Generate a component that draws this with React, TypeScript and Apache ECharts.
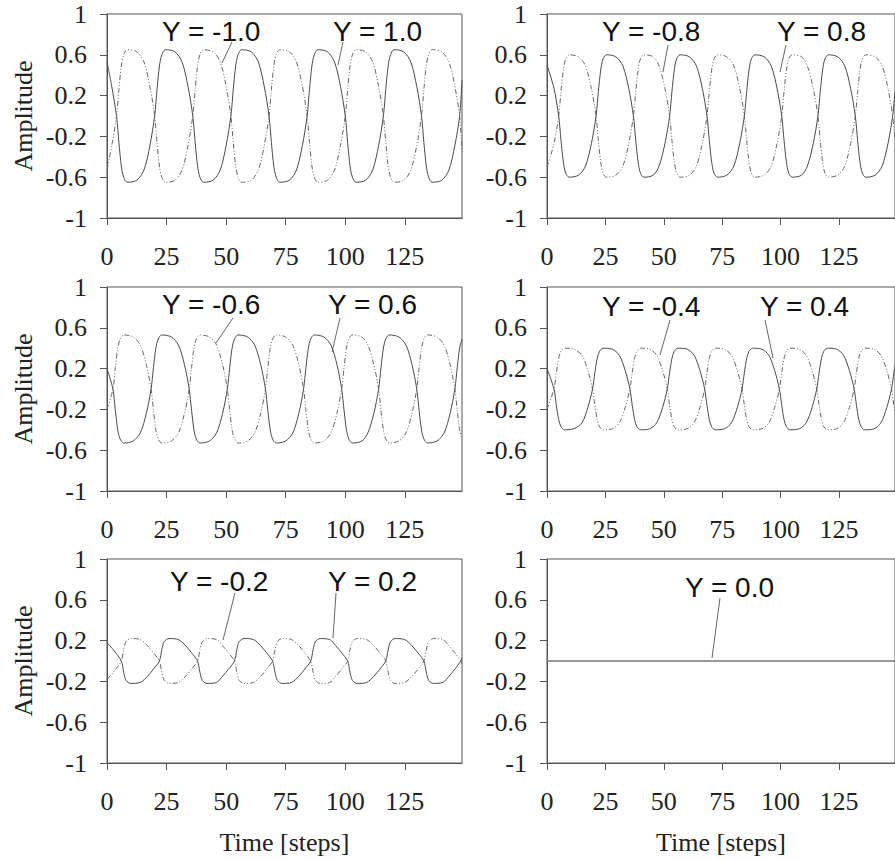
import React, { useEffect, useRef } from "react";
import * as echarts from "echarts";

const X_TICKS = [0, 25, 50, 75, 100, 125];
const Y_TICKS = [-1, -0.6, -0.2, 0.2, 0.6, 1];

// Y = -1.0 / 1.0
const STEPS_10 = [0, 2,
  4, 5, 6, 7, 8.5, 12.5, 15.5, 18,
  20, 21, 22, 23, 24.5, 28.5, 31.5, 34,
  36, 37, 38, 39, 40.5, 44.5, 47.5, 50,
  52, 53, 54, 55, 56.5, 60.5, 63.5, 66,
  68, 69, 70, 71, 72.5, 76.5, 79.5, 82,
  84, 85, 86, 87, 88.5, 92.5, 95.5, 98,
  100, 101, 102, 103, 104.5, 108.5, 111.5, 114,
  116, 117, 118, 119, 120.5, 124.5, 127.5, 130,
  132, 133, 134, 135, 136.5, 140.5, 143.5, 146,
  148, 149];
const SOLID_10 = [0.53, 0.29,
  0, -0.26, -0.49, -0.6, -0.65, -0.63, -0.53, -0.29,
  0, 0.26, 0.49, 0.6, 0.65, 0.63, 0.53, 0.29,
  0, -0.26, -0.49, -0.6, -0.65, -0.63, -0.53, -0.29,
  0, 0.26, 0.49, 0.6, 0.65, 0.63, 0.53, 0.29,
  0, -0.26, -0.49, -0.6, -0.65, -0.63, -0.53, -0.29,
  0, 0.26, 0.49, 0.6, 0.65, 0.63, 0.53, 0.29,
  0, -0.26, -0.49, -0.6, -0.65, -0.63, -0.53, -0.29,
  0, 0.26, 0.49, 0.6, 0.65, 0.63, 0.53, 0.29,
  0, -0.26, -0.49, -0.6, -0.65, -0.63, -0.53, -0.29,
  0, 0.35];
const DASH_10 = [-0.53, -0.29,
  0, 0.26, 0.49, 0.6, 0.65, 0.63, 0.53, 0.29,
  0, -0.26, -0.49, -0.6, -0.65, -0.63, -0.53, -0.29,
  0, 0.26, 0.49, 0.6, 0.65, 0.63, 0.53, 0.29,
  0, -0.26, -0.49, -0.6, -0.65, -0.63, -0.53, -0.29,
  0, 0.26, 0.49, 0.6, 0.65, 0.63, 0.53, 0.29,
  0, -0.26, -0.49, -0.6, -0.65, -0.63, -0.53, -0.29,
  0, 0.26, 0.49, 0.6, 0.65, 0.63, 0.53, 0.29,
  0, -0.26, -0.49, -0.6, -0.65, -0.63, -0.53, -0.29,
  0, 0.26, 0.49, 0.6, 0.65, 0.63, 0.53, 0.29,
  0, -0.35];

// Y = -0.8 / 0.8
const STEPS_08 = [0, 3,
  5, 6, 7, 8, 9.5, 13.5, 16.5, 19,
  21, 22, 23, 24, 25.5, 29.5, 32.5, 35,
  37, 38, 39, 40, 41.5, 45.5, 48, 50.5,
  52.5, 53.5, 54.5, 55.5, 57, 61, 64, 66.5,
  68.5, 69.5, 70.5, 71.5, 73, 77, 80, 82.5,
  84.5, 85.5, 86.5, 87.5, 89, 93, 96, 98.5,
  100.5, 101.5, 102.5, 103.5, 105, 109, 111.5, 114,
  116, 117, 118, 119, 120.5, 124.5, 127.5, 130,
  132, 133, 134, 135, 136.5, 140.5, 143.5, 146,
  148, 149];
const SOLID_08 = [0.5, 0.27,
  0, -0.24, -0.45, -0.56, -0.6, -0.58, -0.49, -0.27,
  0, 0.24, 0.45, 0.56, 0.6, 0.58, 0.49, 0.27,
  0, -0.24, -0.45, -0.56, -0.6, -0.58, -0.49, -0.27,
  0, 0.24, 0.45, 0.56, 0.6, 0.58, 0.49, 0.27,
  0, -0.24, -0.45, -0.56, -0.6, -0.58, -0.49, -0.27,
  0, 0.24, 0.45, 0.56, 0.6, 0.58, 0.49, 0.27,
  0, -0.24, -0.45, -0.56, -0.6, -0.58, -0.49, -0.27,
  0, 0.24, 0.45, 0.56, 0.6, 0.58, 0.49, 0.27,
  0, -0.24, -0.45, -0.56, -0.6, -0.58, -0.49, -0.27,
  0, 0.24];
const DASH_08 = [-0.5, -0.27,
  0, 0.24, 0.45, 0.56, 0.6, 0.58, 0.49, 0.27,
  0, -0.24, -0.45, -0.56, -0.6, -0.58, -0.49, -0.27,
  0, 0.24, 0.45, 0.56, 0.6, 0.58, 0.49, 0.27,
  0, -0.24, -0.45, -0.56, -0.6, -0.58, -0.49, -0.27,
  0, 0.24, 0.45, 0.56, 0.6, 0.58, 0.49, 0.27,
  0, -0.24, -0.45, -0.56, -0.6, -0.58, -0.49, -0.27,
  0, 0.24, 0.45, 0.56, 0.6, 0.58, 0.49, 0.27,
  0, -0.24, -0.45, -0.56, -0.6, -0.58, -0.49, -0.27,
  0, 0.24, 0.45, 0.56, 0.6, 0.58, 0.49, 0.27,
  0, -0.24];

// Y = -0.6 / 0.6
const STEPS_06 = [0,
  2.5, 3.5, 4.5, 5.5, 7, 11, 14, 16.5,
  18.5, 19.5, 20.5, 21.5, 23, 27, 30, 32.5,
  34.5, 35.5, 36.5, 37.5, 39, 43, 46, 48.5,
  50.5, 51.5, 52.5, 53.5, 55, 59, 62, 64.5,
  66.5, 67.5, 68.5, 69.5, 71, 75, 78, 80.5,
  82.5, 83.5, 84.5, 85.5, 87, 91, 94, 96.5,
  98.5, 99.5, 100.5, 101.5, 103, 107, 109.5, 112,
  114, 115, 116, 117, 118.5, 122.5, 125.5, 128,
  130, 131, 132, 133, 134.5, 138.5, 141.5, 144,
  146, 147, 148, 149];
const SOLID_06 = [0.2,
  0, -0.21, -0.4, -0.49, -0.53, -0.51, -0.43, -0.24,
  0, 0.21, 0.4, 0.49, 0.53, 0.51, 0.43, 0.24,
  0, -0.21, -0.4, -0.49, -0.53, -0.51, -0.43, -0.24,
  0, 0.21, 0.4, 0.49, 0.53, 0.51, 0.43, 0.24,
  0, -0.21, -0.4, -0.49, -0.53, -0.51, -0.43, -0.24,
  0, 0.21, 0.4, 0.49, 0.53, 0.51, 0.43, 0.24,
  0, -0.21, -0.4, -0.49, -0.53, -0.51, -0.43, -0.24,
  0, 0.21, 0.4, 0.49, 0.53, 0.51, 0.43, 0.24,
  0, -0.21, -0.4, -0.49, -0.53, -0.51, -0.43, -0.24,
  0, 0.21, 0.4, 0.49];
const DASH_06 = [-0.2,
  0, 0.21, 0.4, 0.49, 0.53, 0.51, 0.43, 0.24,
  0, -0.21, -0.4, -0.49, -0.53, -0.51, -0.43, -0.24,
  0, 0.21, 0.4, 0.49, 0.53, 0.51, 0.43, 0.24,
  0, -0.21, -0.4, -0.49, -0.53, -0.51, -0.43, -0.24,
  0, 0.21, 0.4, 0.49, 0.53, 0.51, 0.43, 0.24,
  0, -0.21, -0.4, -0.49, -0.53, -0.51, -0.43, -0.24,
  0, 0.21, 0.4, 0.49, 0.53, 0.51, 0.43, 0.24,
  0, -0.21, -0.4, -0.49, -0.53, -0.51, -0.43, -0.24,
  0, 0.21, 0.4, 0.49, 0.53, 0.51, 0.43, 0.24,
  0, -0.21, -0.4, -0.49];

// Y = -0.4 / 0.4
const STEPS_04 = [0,
  3, 4, 5, 6, 7.5, 11.5, 15, 17.5,
  19.5, 20.5, 21.5, 22.5, 24, 28, 31, 33.5,
  35.5, 36.5, 37.5, 38.5, 40, 44, 47, 49.5,
  51.5, 52.5, 53.5, 54.5, 56, 60, 63, 65.5,
  67.5, 68.5, 69.5, 70.5, 72, 76, 79, 81.5,
  83.5, 84.5, 85.5, 86.5, 88, 92, 95, 97.5,
  99.5, 100.5, 101.5, 102.5, 104, 108, 111, 113.5,
  115.5, 116.5, 117.5, 118.5, 120, 124, 127, 129.5,
  131.5, 132.5, 133.5, 134.5, 136, 140, 143, 145.5,
  147.5, 148.5, 149];
const SOLID_04 = [0.2,
  0, -0.16, -0.3, -0.37, -0.4, -0.39, -0.33, -0.18,
  0, 0.16, 0.3, 0.37, 0.4, 0.39, 0.33, 0.18,
  0, -0.16, -0.3, -0.37, -0.4, -0.39, -0.33, -0.18,
  0, 0.16, 0.3, 0.37, 0.4, 0.39, 0.33, 0.18,
  0, -0.16, -0.3, -0.37, -0.4, -0.39, -0.33, -0.18,
  0, 0.16, 0.3, 0.37, 0.4, 0.39, 0.33, 0.18,
  0, -0.16, -0.3, -0.37, -0.4, -0.39, -0.33, -0.18,
  0, 0.16, 0.3, 0.37, 0.4, 0.39, 0.33, 0.18,
  0, -0.16, -0.3, -0.37, -0.4, -0.39, -0.33, -0.18,
  0, 0.16, 0.24];
const DASH_04 = [-0.2,
  0, 0.16, 0.3, 0.37, 0.4, 0.39, 0.33, 0.18,
  0, -0.16, -0.3, -0.37, -0.4, -0.39, -0.33, -0.18,
  0, 0.16, 0.3, 0.37, 0.4, 0.39, 0.33, 0.18,
  0, -0.16, -0.3, -0.37, -0.4, -0.39, -0.33, -0.18,
  0, 0.16, 0.3, 0.37, 0.4, 0.39, 0.33, 0.18,
  0, -0.16, -0.3, -0.37, -0.4, -0.39, -0.33, -0.18,
  0, 0.16, 0.3, 0.37, 0.4, 0.39, 0.33, 0.18,
  0, -0.16, -0.3, -0.37, -0.4, -0.39, -0.33, -0.18,
  0, 0.16, 0.3, 0.37, 0.4, 0.39, 0.33, 0.18,
  0, -0.16, -0.24];

// Y = -0.2 / 0.2
const STEPS_02 = [0, 3,
  6, 7, 8, 10, 14, 17, 19.5,
  22, 23, 24, 26, 30, 33, 35.5,
  38, 39, 40, 42, 46, 48.5, 51,
  53.5, 54.5, 55.5, 57.5, 61.5, 64.5, 67,
  69.5, 70.5, 71.5, 73.5, 77.5, 80.5, 83,
  85.5, 86.5, 87.5, 89.5, 93.5, 96, 98.5,
  101, 102, 103, 105, 109, 112, 114.5,
  117, 118, 119, 121, 125, 128, 130.5,
  133, 134, 135, 137, 141, 143.5, 146,
  148.5, 149];
const SOLID_02 = [0.18, 0.1,
  0, -0.11, -0.19, -0.22, -0.21, -0.15, -0.08,
  0, 0.11, 0.19, 0.22, 0.21, 0.15, 0.08,
  0, -0.11, -0.19, -0.22, -0.21, -0.15, -0.08,
  0, 0.11, 0.19, 0.22, 0.21, 0.15, 0.08,
  0, -0.11, -0.19, -0.22, -0.21, -0.15, -0.08,
  0, 0.11, 0.19, 0.22, 0.21, 0.15, 0.08,
  0, -0.11, -0.19, -0.22, -0.21, -0.15, -0.08,
  0, 0.11, 0.19, 0.22, 0.21, 0.15, 0.08,
  0, -0.11, -0.19, -0.22, -0.21, -0.15, -0.08,
  0, 0.03];
const DASH_02 = [-0.18, -0.1,
  0, 0.11, 0.19, 0.22, 0.21, 0.15, 0.08,
  0, -0.11, -0.19, -0.22, -0.21, -0.15, -0.08,
  0, 0.11, 0.19, 0.22, 0.21, 0.15, 0.08,
  0, -0.11, -0.19, -0.22, -0.21, -0.15, -0.08,
  0, 0.11, 0.19, 0.22, 0.21, 0.15, 0.08,
  0, -0.11, -0.19, -0.22, -0.21, -0.15, -0.08,
  0, 0.11, 0.19, 0.22, 0.21, 0.15, 0.08,
  0, -0.11, -0.19, -0.22, -0.21, -0.15, -0.08,
  0, 0.11, 0.19, 0.22, 0.21, 0.15, 0.08,
  0, -0.03];

// Y = 0.0
const STEPS_00 = [0, 149];
const FLAT_00 = [0, 0];

const LABELS = [
  ["Y = -1.0", "Y = 1.0"],
  ["Y = -0.8", "Y = 0.8"],
  ["Y = -0.6", "Y = 0.6"],
  ["Y = -0.4", "Y = 0.4"],
  ["Y = -0.2", "Y = 0.2"],
  ["Y = 0.0"],
];

const SERIF = "'Liberation Serif', 'Times New Roman', serif";
const SANS = "'Liberation Sans', Arial, sans-serif";

function pair(xs: number[], ys: number[]) {
  return xs.map((x, i) => [x, ys[i]]);
}

export default function App() {
  const ref = useRef<HTMLDivElement>(null);

  useEffect(() => {
    if (!ref.current) return;
    const chart = echarts.init(ref.current, undefined, {
      renderer: "svg",
      width: 895,
      height: 860,
    });

    const lefts = [107, 547];
    const tops = [14, 287, 559];
    const grids: any[] = [];
    const xAxes: any[] = [];
    const yAxes: any[] = [];
    for (let r = 0; r < 3; r++) {
      for (let c = 0; c < 2; c++) {
        const i = r * 2 + c;
        grids.push({
          left: lefts[c],
          top: tops[r],
          width: 355,
          height: 204,
          show: true,
          borderColor: "#555",
          borderWidth: 1,
          backgroundColor: "transparent",
        });
        xAxes.push({
          type: "value",
          gridIndex: i,
          min: 0,
          max: 149,
          axisLine: { show: true, onZero: false, lineStyle: { color: "#555", width: 1 } },
          axisTick: {
            show: true,
            length: 7,
            customValues: X_TICKS,
            lineStyle: { color: "#555", width: 1 },
          },
          axisLabel: {
            customValues: X_TICKS,
            margin: 25,
            fontFamily: SERIF,
            fontSize: 26,
            color: "#222",
          },
          splitLine: { show: false },
          name: r === 2 ? "Time [steps]" : "",
          nameLocation: "middle",
          nameGap: 66,
          nameTextStyle: { fontFamily: SERIF, fontSize: 26, color: "#222" },
        });
        yAxes.push({
          type: "value",
          gridIndex: i,
          min: -1,
          max: 1,
          axisLine: { show: true, onZero: false, lineStyle: { color: "#555", width: 1 } },
          axisTick: {
            show: true,
            length: 7,
            customValues: Y_TICKS,
            lineStyle: { color: "#555", width: 1 },
          },
          axisLabel: {
            customValues: Y_TICKS,
            margin: 20,
            fontFamily: SERIF,
            fontSize: 26,
            color: "#222",
          },
          splitLine: { show: false },
          name: c === 0 ? "Amplitude" : "",
          nameLocation: "middle",
          nameGap: 71,
          nameTextStyle: { fontFamily: SERIF, fontSize: 26, color: "#222" },
        });
      }
    }

    const solidStyle = { color: "#4a4a4a", width: 1, type: "solid" };
    const dashStyle = { color: "#666", width: 1, type: [5, 2, 1, 2, 1, 2] };

    const panels: [number[], number[], number[] | null][] = [
      [STEPS_10, SOLID_10, DASH_10],
      [STEPS_08, SOLID_08, DASH_08],
      [STEPS_06, SOLID_06, DASH_06],
      [STEPS_04, SOLID_04, DASH_04],
      [STEPS_02, SOLID_02, DASH_02],
      [STEPS_00, FLAT_00, null],
    ];

    const series: any[] = [];
    panels.forEach(([xs, s, d], i) => {
      series.push({
        type: "line",
        xAxisIndex: i,
        yAxisIndex: i,
        data: pair(xs, s),
        showSymbol: false,
        symbol: "none",
        smooth: i === 5 ? false : 0.3,
        lineStyle: i === 5 ? { color: "#777", width: 1.5 } : solidStyle,
        silent: true,
      });
      if (d) {
        series.push({
          type: "line",
          xAxisIndex: i,
          yAxisIndex: i,
          data: pair(xs, d),
          showSymbol: false,
          symbol: "none",
          smooth: 0.3,
          lineStyle: dashStyle,
          silent: true,
        });
      }
    });

    const txt = (text: string, x: number, y: number) => ({
      type: "text",
      x,
      y,
      style: {
        text,
        font: `28px ${SANS}`,
        fill: "#111",
        align: "left",
        verticalAlign: "middle",
      },
    });
    const ln = (x1: number, y1: number, x2: number, y2: number) => ({
      type: "line",
      shape: { x1, y1, x2, y2 },
      style: { stroke: "#666", lineWidth: 1 },
    });

    const graphic = [
      txt(LABELS[0][0], 162, 31.5),
      txt(LABELS[0][1], 333, 31.5),
      ln(232, 42, 222, 63),
      ln(343, 42, 338, 65),
      txt(LABELS[1][0], 602, 31.5),
      txt(LABELS[1][1], 777, 31.5),
      ln(668, 45, 663, 72),
      ln(786, 45, 780, 72),
      txt(LABELS[2][0], 162, 304.5),
      txt(LABELS[2][1], 328, 304.5),
      ln(233, 318, 216, 343),
      ln(340, 318, 332, 352),
      txt(LABELS[3][0], 602, 306),
      txt(LABELS[3][1], 760, 306),
      ln(670, 320, 660, 355),
      ln(765, 320, 773, 358),
      txt(LABELS[4][0], 170, 581),
      txt(LABELS[4][1], 328, 581),
      ln(235, 593, 223, 640),
      ln(336, 593, 333, 638),
      txt(LABELS[5][0], 685, 587),
      ln(720, 598, 712, 658),
    ];

    chart.setOption({
      animation: false,
      backgroundColor: "#fff",
      grid: grids,
      xAxis: xAxes,
      yAxis: yAxes,
      series,
      graphic,
    });

    return () => {
      chart.dispose();
    };
  }, []);

  return (
    <div
      ref={ref}
      style={{ position: "fixed", left: 0, top: 0, width: 895, height: 860, background: "#fff" }}
    />
  );
}
